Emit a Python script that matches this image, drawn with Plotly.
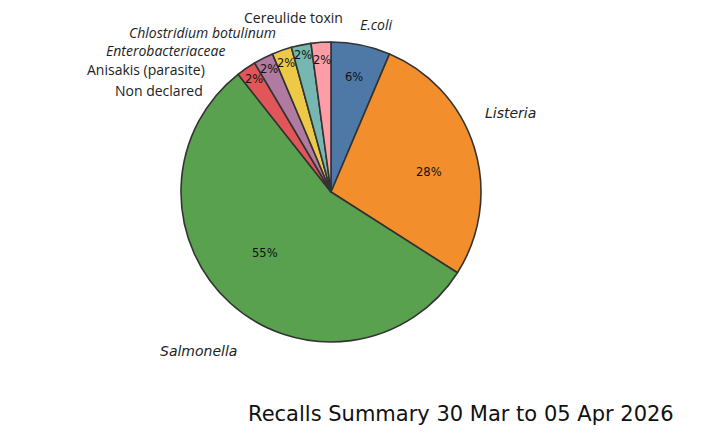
import math
import plotly.graph_objects as go

# ---- data ----
categories = ["E.coli", "Listeria", "Salmonella", "Non declared",
              "Anisakis (parasite)", "Enterobacteriaceae",
              "Chlostridium botulinum", "Cereulide toxin"]
counts = [3, 13, 26, 1, 1, 1, 1, 1]
italic_names = {"E.coli", "Listeria", "Salmonella", "Enterobacteriaceae",
                "Chlostridium botulinum"}
title_text = "Recalls Summary 30 Mar to 05 Apr 2026"

# ---- style ----
colors = ["#4e79a7", "#f28e2b", "#59a14f", "#e15759",
          "#b07aa1", "#edc948", "#76b7b2", "#ff9da7"]
W, H = 720, 440
OFF = 8  # page body margin
CX, CY, R = 331 - OFF, 192 - OFF, 150  # pixel centre and radius of the pie
pct_radial = [0.78, 0.67, 0.60, 0.91, 0.92, 0.91, 0.93, 0.88]
pct_dangle = [0, -5.5, -5, 0, 0, 0, 0, 0]
dejavu_names = {"Listeria", "Salmonella"}
# name label anchors (pixel x, pixel y, xanchor) in page pixels
name_pos = {
    "E.coli": (358, 24, "left"),
    "Listeria": (483, 113, "left"),
    "Salmonella": (239, 351, "right"),
    "Non declared": (205, 90, "right"),
    "Anisakis (parasite)": (207, 70, "right"),
    "Enterobacteriaceae": (227, 50, "right"),
    "Chlostridium botulinum": (278, 32, "right"),
    "Cereulide toxin": (345, 18, "right"),
}

fig = go.Figure(go.Pie(
    labels=categories, values=counts, sort=False, direction="clockwise",
    rotation=0, marker=dict(colors=colors, line=dict(color="#333333", width=1.6)),
    textinfo="none", hoverinfo="label+percent", showlegend=False,
    domain=dict(x=[(CX - R) / W, (CX + R) / W], y=[1 - (CY + R) / H, 1 - (CY - R) / H]),
))

annotations = []
total = sum(counts)
cum = 0
for i, (name, v) in enumerate(zip(categories, counts)):
    mid = cum + v / 2
    cum += v
    ang = math.radians(90 - mid / total * 360 + pct_dangle[i])
    f = pct_radial[i]
    px = CX + f * R * math.cos(ang)
    py = CY - f * R * math.sin(ang)
    annotations.append(dict(
        x=px / W, y=1 - py / H, xref="paper", yref="paper",
        text=f"{round(v / total * 100)}%", showarrow=False,
        xanchor="center", yanchor="middle",
        font=dict(family="DejaVu Sans", size=11.5, color="#111111")))
    lx, ly, anc = name_pos[name]
    txt = f"<i>{name}</i>" if name in italic_names else name
    fam = "DejaVu Sans" if name in dejavu_names else "Open Sans"
    annotations.append(dict(
        x=(lx - OFF) / W, y=1 - (ly - OFF) / H, xref="paper", yref="paper",
        text=txt, showarrow=False, xanchor=anc, yanchor="middle",
        font=dict(family=fam, size=14, color="#222222")))

annotations.append(dict(
    x=(676 - OFF) / W, y=1 - (414 - OFF) / H, xref="paper", yref="paper", text=title_text,
    showarrow=False, xanchor="right", yanchor="middle",
    font=dict(family="DejaVu Sans", size=21, color="#111111")))

fig.update_layout(
    width=W, height=H, margin=dict(l=0, r=0, t=0, b=0),
    paper_bgcolor="white", plot_bgcolor="white", annotations=annotations,
)
fig.write_html("out.html")
